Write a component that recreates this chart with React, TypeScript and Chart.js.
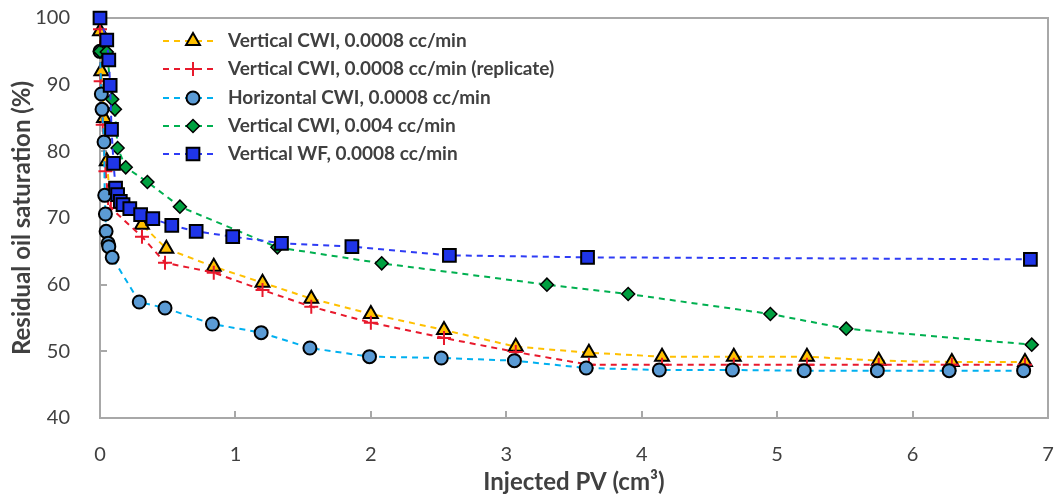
import React, { useEffect, useRef } from 'react';
import { Chart, registerables } from 'chart.js';

Chart.register(...registerables);

// ---- Data ----
const seriesNames = [
  'Vertical CWI, 0.0008 cc/min',
  'Vertical CWI, 0.0008 cc/min (replicate)',
  'Horizontal CWI, 0.0008 cc/min',
  'Vertical CWI, 0.004 cc/min',
  'Vertical WF, 0.0008 cc/min',
];

const vcwiX = [0, 0.01, 0.03, 0.05, 0.07, 0.31, 0.49, 0.84, 1.2, 1.56, 2.0, 2.54, 3.07, 3.61, 4.15, 4.68, 5.22, 5.75, 6.29, 6.83];
const vcwiY = [98, 92, 85, 78.5, 74, 69.0, 65.4, 62.7, 60.3, 57.9, 55.6, 53.2, 50.7, 49.8, 49.2, 49.2, 49.2, 48.6, 48.4, 48.4];

const repX = [0, 0.005, 0.02, 0.04, 0.06, 0.08, 0.31, 0.48, 0.84, 1.2, 1.56, 2.0, 2.54, 3.07, 3.61, 4.15, 4.68, 5.22, 5.75, 6.29, 6.83];
const repY = [98.3, 90.5, 84, 77, 73, 71.5, 67.2, 63.3, 61.8, 59.2, 56.7, 54.3, 52.0, 49.9, 48.0, 48.0, 48.0, 48.0, 48.0, 48.0, 48.0];

const hcwiX = [0, 0.01, 0.015, 0.03, 0.035, 0.04, 0.045, 0.06, 0.065, 0.09, 0.29, 0.48, 0.83, 1.19, 1.55, 1.99, 2.52, 3.06, 3.59, 4.13, 4.67, 5.2, 5.74, 6.27, 6.82];
const hcwiY = [95, 88.6, 86.3, 81.4, 73.4, 70.6, 68.0, 66.2, 65.7, 64.1, 57.4, 56.5, 54.1, 52.8, 50.5, 49.2, 49.0, 48.6, 47.5, 47.2, 47.2, 47.1, 47.1, 47.1, 47.1];

const v004X = [0, 0.05, 0.09, 0.11, 0.13, 0.19, 0.35, 0.59, 1.31, 2.08, 3.3, 3.9, 4.95, 5.51, 6.88];
const v004Y = [95, 94.9, 87.8, 86.3, 80.5, 77.6, 75.4, 71.7, 65.6, 63.2, 60.0, 58.6, 55.6, 53.4, 51.0];

const wfX = [0, 0.05, 0.065, 0.075, 0.085, 0.1, 0.115, 0.13, 0.15, 0.17, 0.22, 0.3, 0.39, 0.53, 0.71, 0.98, 1.34, 1.86, 2.58, 3.6, 6.87];
const wfY = [100, 96.7, 93.7, 89.9, 83.3, 78.2, 74.5, 73.5, 72.5, 72.0, 71.4, 70.5, 69.9, 68.9, 68.0, 67.2, 66.2, 65.7, 64.4, 64.1, 63.8];

const xTickMin = 0;
const xTickMax = 7;
const yTickMin = 40;
const yTickMax = 100;

const toPoints = (xs: number[], ys: number[]) => xs.map((x, i) => ({ x, y: ys[i] }));

const FONT = "Lato, 'Open Sans', sans-serif";
const FRAME = '#a8a8a8';

function drawMarker(ctx: CanvasRenderingContext2D, style: string, x: number, y: number, r: number, fill: string, stroke: string, lw: number) {
  ctx.save();
  ctx.beginPath();
  ctx.fillStyle = fill;
  ctx.strokeStyle = stroke;
  ctx.lineWidth = lw;
  if (style === 'circle') {
    ctx.arc(x, y, r, 0, Math.PI * 2);
  } else if (style === 'rect') {
    const s = Math.SQRT1_2 * r;
    ctx.rect(x - s, y - s, 2 * s, 2 * s);
  } else if (style === 'rectRot') {
    ctx.moveTo(x, y - r);
    ctx.lineTo(x + r, y);
    ctx.lineTo(x, y + r);
    ctx.lineTo(x - r, y);
    ctx.closePath();
  } else if (style === 'triangle') {
    const a = Math.PI * 2 / 3;
    ctx.moveTo(x, y - r);
    ctx.lineTo(x + Math.sin(a) * r, y - Math.cos(a) * r);
    ctx.lineTo(x + Math.sin(2 * a) * r, y - Math.cos(2 * a) * r);
    ctx.closePath();
  } else if (style === 'cross') {
    ctx.moveTo(x, y - r);
    ctx.lineTo(x, y + r);
    ctx.moveTo(x - r, y);
    ctx.lineTo(x + r, y);
    ctx.stroke();
    ctx.restore();
    return;
  }
  ctx.fill();
  ctx.stroke();
  ctx.restore();
}

const framePlugin = {
  id: 'frameAndLegend',
  beforeDatasetsDraw(chart: any) {
    const ctx = chart.ctx as CanvasRenderingContext2D;
    const area = chart.chartArea;
    const xs = chart.scales.x;
    const ys = chart.scales.y;
    ctx.save();
    ctx.setLineDash([]);
    ctx.strokeStyle = FRAME;
    ctx.lineWidth = 2;
    ctx.beginPath();
    for (const t of xs.ticks) {
      const px = Math.round(xs.getPixelForValue(t.value));
      ctx.moveTo(px, area.bottom);
      ctx.lineTo(px, area.bottom - 7);
    }
    for (const t of ys.ticks) {
      const py = Math.round(ys.getPixelForValue(t.value));
      ctx.moveTo(area.left, py);
      ctx.lineTo(area.left + 7, py);
    }
    ctx.moveTo(area.left, area.top);
    ctx.lineTo(area.right, area.top);
    ctx.lineTo(area.right, area.bottom);
    ctx.stroke();
    ctx.restore();
  },
  afterDraw(chart: any) {
    const ctx = chart.ctx as CanvasRenderingContext2D;
    const lx0 = 163, lx1 = 218, mx = 193, tx = 228;
    const rowY = [41, 69, 98, 126, 154];
    chart.data.datasets.forEach((ds: any, i: number) => {
      const y = rowY[i];
      ctx.save();
      ctx.strokeStyle = ds.borderColor;
      ctx.lineWidth = 2;
      ctx.setLineDash([6, 5]);
      ctx.beginPath();
      ctx.moveTo(lx0, y);
      ctx.lineTo(lx1, y);
      ctx.stroke();
      ctx.setLineDash([]);
      ctx.restore();
      drawMarker(ctx, ds.pointStyle, mx, y, ds.pointRadius, ds.pointBackgroundColor, ds.pointBorderColor, ds.pointBorderWidth);
      ctx.save();
      ctx.fillStyle = '#404040';
      ctx.font = `bold 19px ${FONT}`;
      ctx.textBaseline = 'middle';
      ctx.textAlign = 'left';
      ctx.fillText(ds.label, tx, y);
      ctx.restore();
    });
  },
};

export default function App() {
  const ref = useRef<HTMLCanvasElement | null>(null);

  useEffect(() => {
    if (!ref.current) return;
    const common = { showLine: true, borderWidth: 2, borderDash: [6, 5], tension: 0, fill: false, clip: false };
    const chart = new Chart(ref.current, {
      type: 'scatter',
      data: {
        datasets: [
          { ...common, label: seriesNames[0], data: toPoints(vcwiX, vcwiY), borderColor: '#FFC000', pointStyle: 'triangle', pointRadius: 8, pointBackgroundColor: '#FFC000', pointBorderColor: '#000000', pointBorderWidth: 2, order: 5 },
          { ...common, label: seriesNames[1], data: toPoints(repX, repY), borderColor: '#E8192C', pointStyle: 'cross', pointRadius: 7, pointBackgroundColor: '#E8192C', pointBorderColor: '#E8192C', pointBorderWidth: 2, order: 4 },
          { ...common, label: seriesNames[2], data: toPoints(hcwiX, hcwiY), borderColor: '#00B0F0', pointStyle: 'circle', pointRadius: 6.5, pointBackgroundColor: '#5B9BD5', pointBorderColor: '#000000', pointBorderWidth: 2, order: 3 },
          { ...common, label: seriesNames[3], data: toPoints(v004X, v004Y), borderColor: '#00B050', pointStyle: 'rectRot', pointRadius: 6.5, pointBackgroundColor: '#00A040', pointBorderColor: '#000000', pointBorderWidth: 1.5, order: 2 },
          { ...common, label: seriesNames[4], data: toPoints(wfX, wfY), borderColor: '#2E3CF5', pointStyle: 'rect', pointRadius: 9, pointBackgroundColor: '#1F35E8', pointBorderColor: '#000000', pointBorderWidth: 2, order: 1 },
        ] as any,
      },
      options: {
        animation: false,
        responsive: true,
        maintainAspectRatio: false,
        layout: { padding: { top: 18, right: 7, left: 0, bottom: 0 } },
        plugins: { legend: { display: false }, tooltip: { enabled: false } },
        scales: {
          x: {
            type: 'linear',
            position: 'bottom',
            min: xTickMin,
            max: xTickMax,
            grid: { display: false },
            border: { display: true, color: FRAME, width: 2 },
            ticks: { stepSize: 1, color: '#404040', font: { family: FONT, size: 20 }, padding: 17 },
            title: { display: true, text: 'Injected PV (cm³)', color: '#404040', font: { family: FONT, size: 24, weight: 'bold' }, padding: { top: 0, bottom: 0 } },
            afterFit: (s: any) => { s.height = 79; s.paddingLeft = 0; s.paddingRight = 0; },
          },
          y: {
            type: 'linear',
            position: 'left',
            min: yTickMin,
            max: yTickMax,
            grid: { display: false },
            border: { display: true, color: FRAME, width: 2 },
            ticks: { stepSize: 10, color: '#404040', font: { family: FONT, size: 20 }, padding: 22 },
            title: { display: true, text: 'Residual oil saturation (%)', color: '#404040', font: { family: FONT, size: 24, weight: 'bold' }, padding: { top: 8, bottom: 0 } },
            afterFit: (s: any) => { s.width = 100; s.paddingTop = 0; s.paddingBottom = 0; },
          },
        },
      } as any,
      plugins: [framePlugin],
    });
    return () => chart.destroy();
  }, []);

  return (
    <div style={{ position: 'fixed', left: 0, top: 0, width: 1059, height: 497, background: '#ffffff' }}>
      <canvas ref={ref} />
    </div>
  );
}
